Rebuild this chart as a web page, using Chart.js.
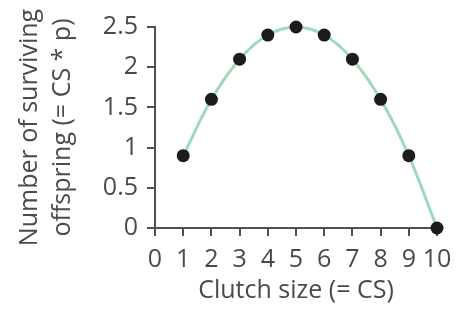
<!DOCTYPE html>
<html>
<head>
<meta charset="utf-8">
<script src="https://cdn.jsdelivr.net/npm/chart.js@4"></script>
<style>
  html, body { margin: 0; padding: 0; background: #fff; }
  #wrap { width: 463px; height: 314px; }
</style>
</head>
<body>
<div id="wrap"><canvas id="chart" width="463" height="314"></canvas></div>
<script>
const clutchSizes = [1, 2, 3, 4, 5, 6, 7, 8, 9, 10];
const survivors = [0.9, 1.6, 2.1, 2.4, 2.5, 2.4, 2.1, 1.6, 0.9, 0];

const axisColor = "#505050";
const textColor = "#4a4a4a";
const fontFamily = "'Open Sans', 'Noto Sans', sans-serif";

const points = clutchSizes.map((cs, i) => ({ x: cs, y: survivors[i] }));

new Chart(document.getElementById("chart"), {
    type: "line",
    data: {
        datasets: [{
            data: points,
            borderColor: "#9fd9b9",
            borderWidth: 3,
            cubicInterpolationMode: "monotone",
            pointRadius: 6.5,
            pointBackgroundColor: "#1c1c1c",
            pointBorderColor: "#1c1c1c",
            pointBorderWidth: 0,
            clip: false
        }]
    },
    options: {
        responsive: false,
        animation: false,
        layout: { padding: { top: 27, right: 26, left: 0, bottom: 4 } },
        plugins: { legend: { display: false }, tooltip: { enabled: false } },
        scales: {
            x: {
                type: "linear",
                min: 0,
                max: 10,
                afterFit: (scale) => { scale.height = 82; },
                border: { color: axisColor, width: 2 },
                grid: { drawOnChartArea: false, drawTicks: true, tickLength: 8, color: axisColor, lineWidth: 2 },
                ticks: {
                    stepSize: 1,
                    autoSkip: false,
                    color: textColor,
                    font: { family: fontFamily, size: 25 },
                    padding: 9,
                    maxRotation: 0
                },
                title: {
                    display: true,
                    text: "Clutch size (= CS)",
                    color: textColor,
                    font: { family: fontFamily, size: 25 },
                    padding: { top: 3 }
                }
            },
            y: {
                min: 0,
                max: 2.5,
                afterFit: (scale) => { scale.width = 155; },
                border: { color: axisColor, width: 2 },
                grid: { drawOnChartArea: false, drawTicks: true, tickLength: 8, color: axisColor, lineWidth: 2 },
                ticks: {
                    stepSize: 0.5,
                    color: textColor,
                    font: { family: fontFamily, size: 25 },
                    padding: 9,
                    callback: (v) => String(v)
                },
                title: {
                    display: true,
                    text: ["Number of surviving", "offspring (= CS * p)"],
                    color: textColor,
                    font: { family: fontFamily, size: 25, lineHeight: 1.3 },
                    padding: { top: 14, bottom: 0 }
                }
            }
        }
    }
});
</script>
</body>
</html>
